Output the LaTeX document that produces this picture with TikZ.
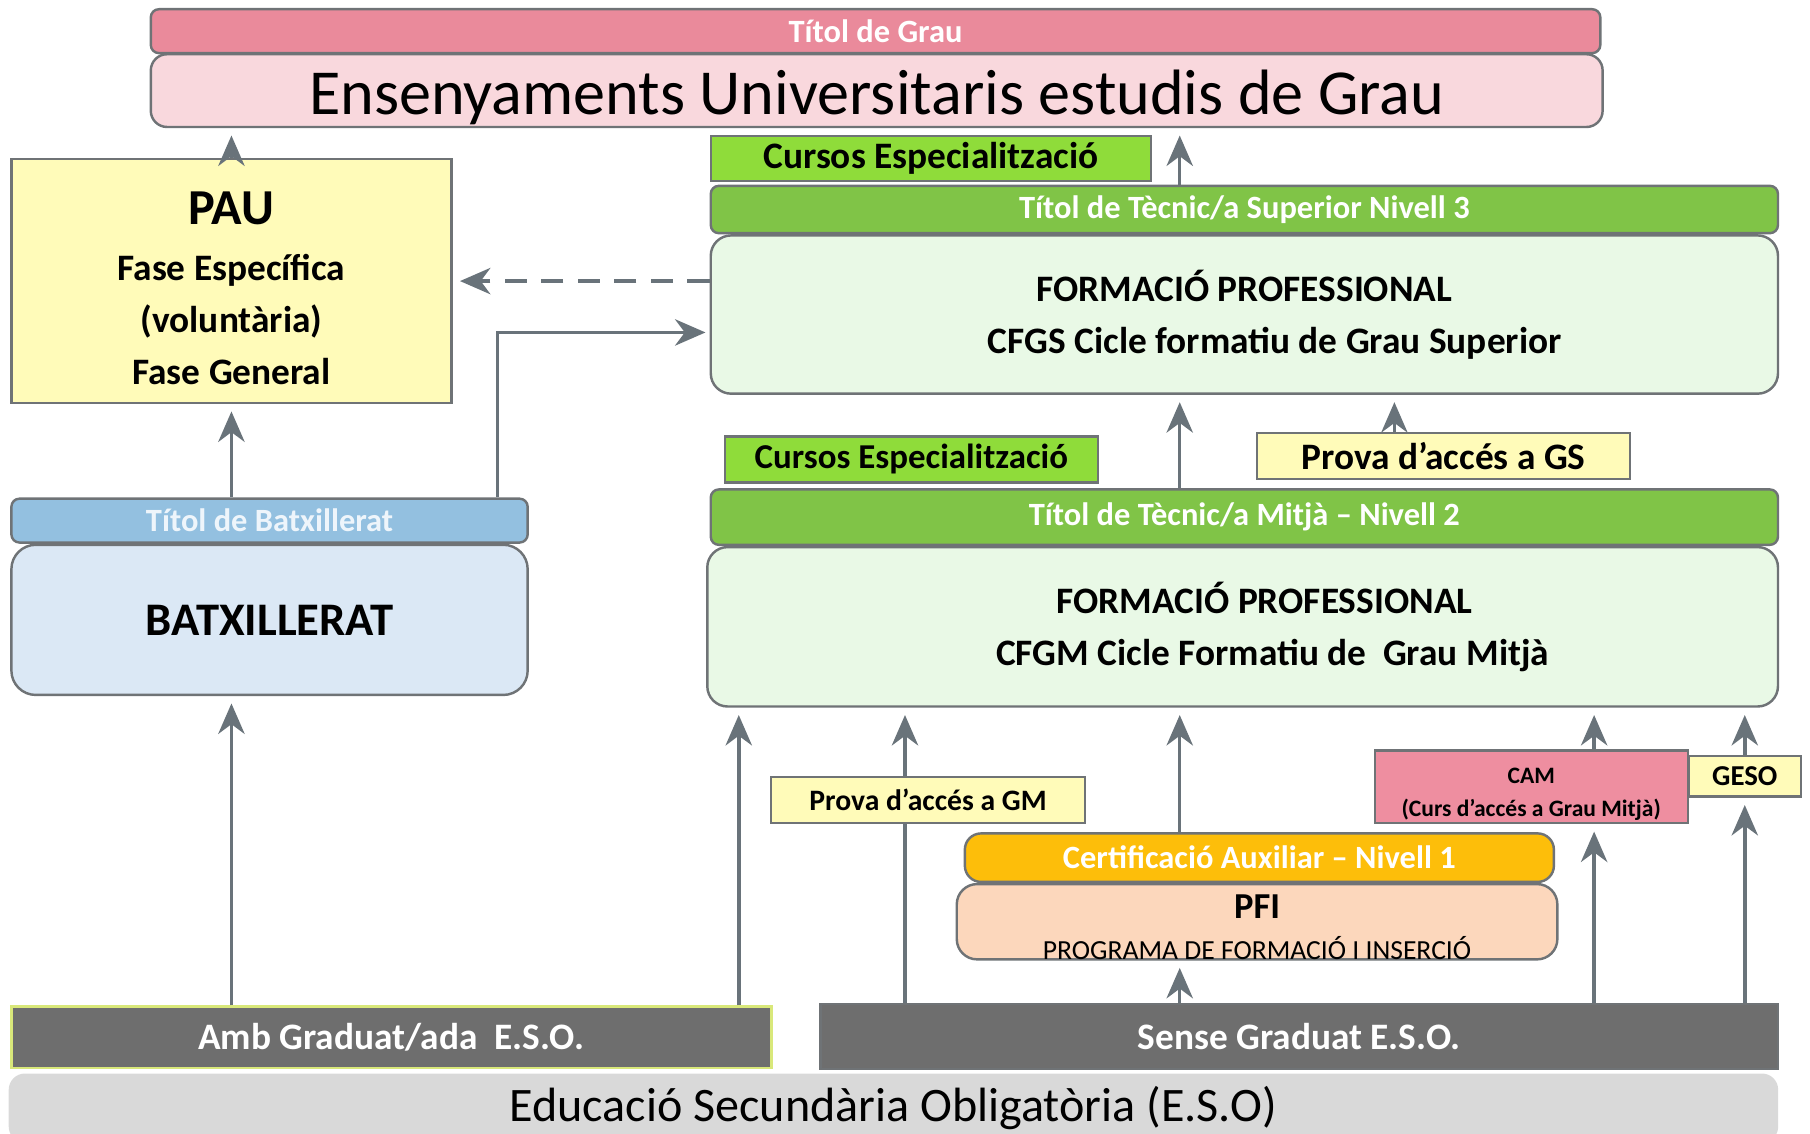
\documentclass[tikz,border=0pt]{standalone}
\usepackage{fontspec}
\setmainfont{Carlito}
\usetikzlibrary{positioning, arrows.meta, calc}

\definecolor{linegray}{HTML}{6F7376}
\definecolor{arrowgray}{HTML}{69737A}
\definecolor{graupink}{HTML}{EA8A9B}
\definecolor{graulight}{HTML}{F9D8DD}
\definecolor{tagyellow}{HTML}{FFFBB9}
\definecolor{batxblue}{HTML}{93C0E0}
\definecolor{batxtext}{HTML}{EEF5FB}
\definecolor{batxlight}{HTML}{DBE8F5}
\definecolor{esogray}{HTML}{D9D9D9}
\definecolor{esodark}{HTML}{6E6E6E}
\definecolor{ambedge}{HTML}{D9E87A}
\definecolor{cursgreen}{HTML}{8FDC3A}
\definecolor{bargreen}{HTML}{80C447}
\definecolor{fplight}{HTML}{E9F9E6}
\definecolor{certorange}{HTML}{FDBE0A}
\definecolor{pfipeach}{HTML}{FCD7BC}
\definecolor{campink}{HTML}{EE8EA0}

\tikzset{
  box/.style={draw=linegray, line width=0.6pt, inner sep=0pt, align=center,
    font=\bfseries\fontsize{9.2}{12.8}\selectfont},
  bar/.style={box, rounded corners=2pt, text=white, font=\bfseries\fontsize{8}{9}\selectfont},
  panel/.style={box, rounded corners=5pt},
  tag/.style={box, fill=tagyellow},
  arr/.style={->, draw=arrowgray, line width=0.85pt, shorten >=1.8pt},
}

\begin{document}
\begin{tikzpicture}[x=0.01cm, y=-0.01cm, >={Stealth[length=7.5pt, width=6.5pt, inset=2.4pt]}]

% Bounding box
\useasboundingbox (0,0) rectangle (1568,982);

% Universitat
\node[bar, fill=graupink, minimum width=12.55cm, minimum height=0.38cm] (grautitol) at (758.5,27) {Títol de Grau};
\node[panel, fill=graulight, rounded corners=4pt, minimum width=12.57cm, minimum height=0.63cm,
  font=\fontsize{15.8}{18}\selectfont] (grau) at (759.5,78.5) {\rule{0pt}{14.5pt}Ensenyaments Universitaris estudis de Grau};

% PAU i Batxillerat
\node[tag, rounded corners=0pt, minimum width=3.81cm, minimum height=2.11cm] (pau) at (200.5,243.5)
  {{\fontsize{12.4}{14}\selectfont\rule{0pt}{11.5pt}PAU}\\[1pt] Fase Específica\\ (voluntària)\\ Fase General};
\node[bar, fill=batxblue, text=batxtext, minimum width=4.47cm, minimum height=0.38cm] (batxtitol) at (233.5,451) {Títol de Batxillerat};
\node[panel, fill=batxlight, rounded corners=6pt, minimum width=4.47cm, minimum height=1.30cm,
  font=\bfseries\fontsize{11.5}{13}\selectfont] (batx) at (233.5,537) {BATXILLERAT};

% ESO
\node[box, draw=none, fill=esogray, rounded corners=4pt, minimum width=15.32cm, minimum height=0.6cm,
  font=\fontsize{11.85}{14}\selectfont] (eso) at (774,960) {Educació Secundària Obligatòria (E.S.O)};
\node[box, fill=esodark, draw=ambedge, text=white, minimum width=6.58cm, minimum height=0.53cm] (amb) at (339,898.5) {Amb Graduat/ada\ \ E.S.O.};
\node[box, fill=esodark, text=white, minimum width=8.29cm, minimum height=0.56cm] (sense) at (1125.5,898) {Sense Graduat E.S.O.};

% Grau Superior
\node[box, fill=cursgreen, minimum width=3.81cm, minimum height=0.39cm] (cursosgs) at (806.5,137.5) {Cursos Especialització};
\node[bar, fill=bargreen, minimum width=9.24cm, minimum height=0.41cm] (gstitol) at (1078,181.5) {Títol de Tècnic/a Superior Nivell 3};
\node[panel, fill=fplight, minimum width=9.24cm, minimum height=1.37cm] (cfgs) at (1078,272.5)
  {FORMACIÓ PROFESSIONAL\\ \hspace*{15pt}CFGS Cicle formatiu de Grau Superior};

% Grau Mitja
\node[box, fill=cursgreen, minimum width=3.23cm, minimum height=0.40cm, font=\bfseries\fontsize{8.6}{10}\selectfont] (cursosgm) at (789.5,398) {Cursos Especialització};
\node[tag, minimum width=3.23cm, minimum height=0.40cm] (provags) at (1250.5,395) {Prova d’accés a GS};
\node[bar, fill=bargreen, minimum width=9.24cm, minimum height=0.48cm] (gmtitol) at (1078,448) {Títol de Tècnic/a Mitjà – Nivell 2};
\node[panel, fill=fplight, minimum width=9.27cm, minimum height=1.38cm] (cfgm) at (1076.5,543)
  {\hspace*{10.8pt}FORMACIÓ PROFESSIONAL\\ \hspace*{14.8pt}CFGM Cicle Formatiu de\ \ Grau Mitjà};

% Sense graduat
\node[bar, fill=certorange, rounded corners=4pt, minimum width=5.10cm, minimum height=0.42cm] (certaux) at (1091,743) {Certificació Auxiliar – Nivell 1};
\node[panel, fill=pfipeach, minimum width=5.20cm, minimum height=0.65cm, font=\bfseries\fontsize{9}{10}\selectfont] (pfi) at (1089,798.5)
  {\rule{0pt}{8.5pt}PFI\\ {\mdseries\fontsize{6.8}{8}\selectfont PROGRAMA DE FORMACIÓ I INSERCIÓ}};
\node[box, fill=campink, minimum width=2.71cm, minimum height=0.63cm, font=\bfseries\fontsize{5.8}{8}\selectfont] (cam) at (1326.5,681.5)
  {\rule{0pt}{7.6pt}CAM\\ (Curs d’accés a Grau Mitjà)};
\node[tag, minimum width=0.97cm, minimum height=0.35cm, font=\bfseries\fontsize{7.1}{8}\selectfont] (geso) at (1511.5,672.5) {GESO};

% Columns
\coordinate (xfp) at (1022,0);
\coordinate (xamb) at (640,0);
\coordinate (xgm) at (784,0);
\coordinate (xcam) at (1381,0);
\coordinate (xgeso) at (1511.5,0);

% Arrows
\draw[arr] (pau.north) -- (pau.north |- grau.south);
\draw[arr] (xfp |- gstitol.north) -- (xfp |- grau.south);
\draw[arr, dash pattern=on 5.5pt off 3.5pt] (cfgs.west |- pau.east) -- (pau.east);
\draw[arr, shorten >=1pt] ([xshift=-0.27cm]batxtitol.north east) |- ([yshift=-0.155cm]cfgs.west);
\draw[arr] (pau.south |- batxtitol.north) -- (pau.south);
\draw[arr] (pau.south |- amb.north) -- (pau.south |- batx.south);
\draw[arr] (xamb |- amb.north) -- (xamb |- cfgm.south);
\draw[arr] (xgm |- sense.north) -- (xgm |- cfgm.south);
\draw[arr] (xfp |- gmtitol.north) -- (xfp |- cfgs.south);
\draw[arr] ([xshift=-0.425cm]provags.north) -- ([xshift=-0.425cm]provags.north |- cfgs.south);
\foreach \src/\col in {certaux/xfp, cam/xcam, geso/xgeso}
  \draw[arr] (\col |- \src.north) -- (\col |- cfgm.south);
\foreach \dst/\col in {pfi/xfp, cam/xcam, geso/xgeso}
  \draw[arr] (\col |- sense.north) -- (\col |- \dst.south);

% Prova GM over its line
\node[tag, minimum width=2.72cm, minimum height=0.40cm, font=\bfseries\fontsize{7.3}{9}\selectfont] (provagm) at (804,693) {Prova d’accés a GM};

\end{tikzpicture}
\end{document}
